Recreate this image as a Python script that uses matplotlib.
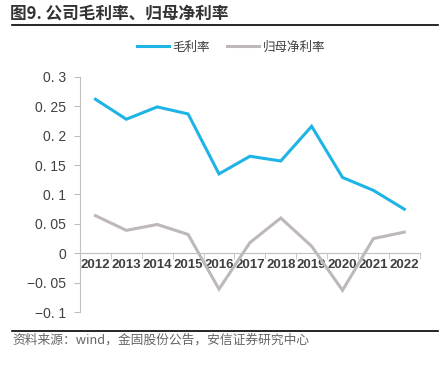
import numpy as np
import matplotlib
matplotlib.use("Agg")
import matplotlib.pyplot as plt
from matplotlib.lines import Line2D

plt.rcParams['font.family'] = ['Liberation Sans', 'Noto Sans CJK SC', 'DejaVu Sans']
plt.rcParams['axes.unicode_minus'] = True

years = ['2012', '2013', '2014', '2015', '2016', '2017', '2018', '2019', '2020', '2021', '2022']
gross_margin = [0.262, 0.228, 0.249, 0.237, 0.135, 0.165, 0.157, 0.216, 0.129, 0.107, 0.075]
net_margin = [0.064, 0.039, 0.049, 0.032, -0.061, 0.018, 0.060, 0.012, -0.063, 0.025, 0.036]
y_ticks = [-0.1, -0.05, 0, 0.05, 0.1, 0.15, 0.2, 0.25, 0.3]
y_labels = ['\u22120. 1', '\u22120. 05', '0', '0. 05', '0. 1', '0. 15', '0. 2', '0. 25', '0. 3']

blue = '#1FB4E6'
grey = '#BEB8B8'
axis_grey = '#BFBFBF'
text_grey = '#404040'

fig = plt.figure(figsize=(4.47, 3.68), dpi=100)
ax = fig.add_axes([0.179, 0.152, 0.76, 0.639])

x = np.arange(len(years))
ax.plot(x, gross_margin, color=blue, lw=2.2, solid_joinstyle='miter')
ax.plot(x, net_margin, color=grey, lw=2.2, solid_joinstyle='miter')

ax.set_xlim(-0.5, len(years) - 0.5)
ax.set_ylim(-0.1, 0.3)
ax.set_yticks(y_ticks, y_labels)

# x axis sits on zero, ticks between categories
for s in ['top', 'right']:
    ax.spines[s].set_visible(False)
ax.spines['bottom'].set_position(('data', 0))
ax.spines['bottom'].set_color(axis_grey)
ax.spines['left'].set_color(axis_grey)
ax.set_xticks(x, years)
ax.set_xticks(np.arange(-0.5, len(years)), minor=True)
ax.tick_params(axis='x', which='major', length=0, pad=4, labelsize=9.5, labelcolor=text_grey)
ax.tick_params(axis='x', which='minor', length=4, color=axis_grey, direction='out')
ax.tick_params(axis='y', length=4, color=axis_grey, labelsize=10, labelcolor=text_grey, pad=6)
for lab in ax.get_xticklabels():
    lab.set_fontweight('bold')

# legend
handles = [Line2D([], [], color=blue, lw=2.2), Line2D([], [], color=grey, lw=2.2)]
fig.legend(handles, ['毛利率', '归母净利率'], loc='center', bbox_to_anchor=(0.517, 0.872),
           ncol=2, frameon=False, handlelength=2.56, handletextpad=0.32,
           columnspacing=1.36, labelcolor=text_grey,
           prop={'family': ['Noto Sans CJK SC'], 'size': 9})

# title and footer
fig.text(0.022, 0.962, '图9. 公司毛利率、归母净利率', fontsize=12, fontweight='bold',
         color='#333333', va='center', ha='left', family=['Noto Sans CJK SC'])
fig.add_artist(Line2D([0.027, 0.98], [0.932, 0.932], color='black', lw=1.2))
fig.add_artist(Line2D([0.027, 0.98], [0.101, 0.101], color='black', lw=1.2))
fig.text(0.027, 0.075, '资料来源：wind，金固股份公告，安信证券研究中心', fontsize=9.2,
         color='#666666', style='italic', va='center', ha='left',
         family=['Noto Sans CJK SC', 'DejaVu Sans'])

fig.savefig('out.png', dpi=100)
